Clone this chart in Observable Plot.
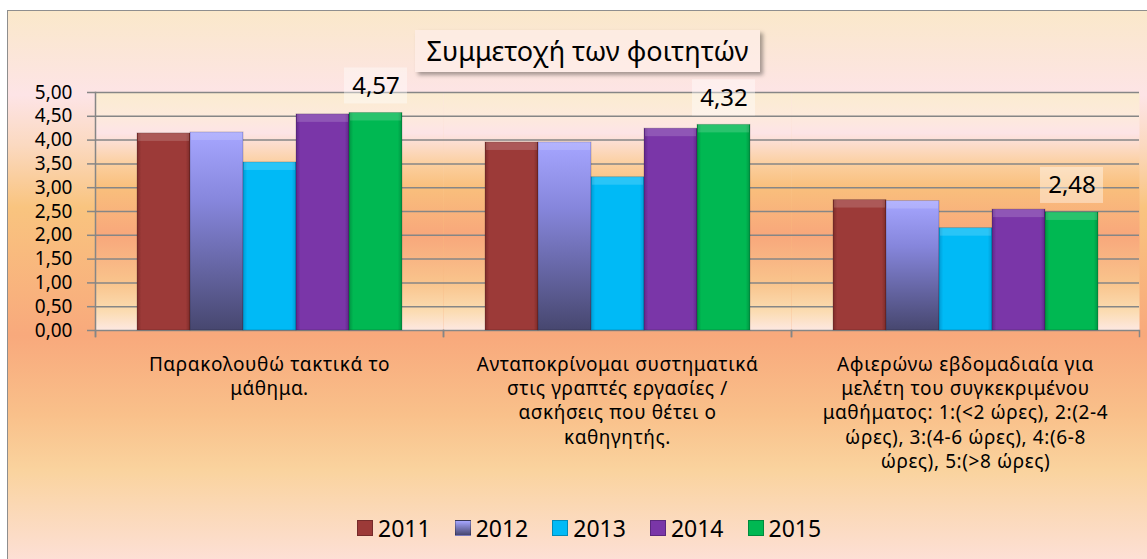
<!DOCTYPE html>
<html>
<head>
<meta charset="utf-8">
<script src="https://cdn.jsdelivr.net/npm/d3@7"></script>
<script src="https://cdn.jsdelivr.net/npm/@observablehq/plot@0.6"></script>
<style>
  body { margin: 0; background: #fff; font-family: "Noto Sans", sans-serif; color: #000; }
  #wrap { position: relative; width: 1147px; height: 559px; overflow: hidden; }
  #bg { position: absolute; left: 7px; top: 10px; width: 1150px; height: 560px;
        border-left: 1px solid #8e8e8e; border-top: 1px solid #8e8e8e;
        background: linear-gradient(to bottom, #fae8ca 0%, #fde4e6 15%, #fbd9c0 24%, #f9c47f 35%, #f8a97c 58%, #f9c08a 72%, #fad39e 82%, #fde1dc 100%); }
  #title { position: absolute; left: 415px; top: 30px; width: 345px; height: 42px;
           background: rgba(255, 240, 236, 0.6); box-shadow: 3px 3px 4px rgba(0,0,0,0.35);
           font-size: 27px; line-height: 42px; text-align: center; white-space: nowrap; }
  #chart { position: absolute; left: 0; top: 74px; }
  #legend { position: absolute; left: 357px; top: 514px; height: 28px; display: flex; gap: 24px; align-items: center; }
  #legend .item { display: flex; align-items: center; gap: 5px; font-size: 23px; line-height: 28px; }
  #legend .sw { width: 16px; height: 16px; box-sizing: border-box; border: 1px solid rgba(0,0,0,0.25); }
  g[aria-label="fx-axis tick label"] text { letter-spacing: 0.6px; }
</style>
</head>
<body>
<div id="wrap">
  <div id="bg"></div>
  <div id="title">Συμμετοχή των φοιτητών</div>
  <div id="chart"></div>
  <div id="legend"></div>
</div>
<script>
// ---- data ----
const categories = [
  "Παρακολουθώ τακτικά το μάθημα.",
  "Ανταποκρίνομαι συστηματικά στις γραπτές εργασίες / ασκήσεις που θέτει ο καθηγητής.",
  "Αφιερώνω εβδομαδιαία για μελέτη του συγκεκριμένου μαθήματος: 1:(<2 ώρες), 2:(2-4 ώρες), 3:(4-6 ώρες), 4:(6-8 ώρες), 5:(>8 ώρες)"
];
const categoryLabels = [
  "Παρακολουθώ τακτικά το\nμάθημα.",
  "Ανταποκρίνομαι συστηματικά\nστις γραπτές εργασίες /\nασκήσεις που θέτει ο\nκαθηγητής.",
  "Αφιερώνω εβδομαδιαία για\nμελέτη του συγκεκριμένου\nμαθήματος: 1:(<2 ώρες), 2:(2-4\nώρες), 3:(4-6 ώρες), 4:(6-8\nώρες), 5:(>8 ώρες)"
];
const years = ["2011", "2012", "2013", "2014", "2015"];
const values2011 = [4.14, 3.95, 2.74];
const values2012 = [4.16, 3.95, 2.72];
const values2013 = [3.53, 3.22, 2.15];
const values2014 = [4.54, 4.24, 2.54];
const values2015 = [4.57, 4.32, 2.48];
const yTicks = [0, 0.5, 1, 1.5, 2, 2.5, 3, 3.5, 4, 4.5, 5];
const labelledYear = "2015";

// ---- styles ----
const barColors = {
  "2011": ["#7c2b29", "#9c3a38", "#7c2b29"],
  "2012": ["#a6a6ff", "#8686dc", "#47476f"],
  "2013": ["#009ad4", "#00baf6", "#009ad4"],
  "2014": ["#5f2788", "#7a36a8", "#5f2788"],
  "2015": ["#009342", "#00b852", "#009342"]
};

const series = {"2011": values2011, "2012": values2012, "2013": values2013, "2014": values2014, "2015": values2015};
const rows = [];
years.forEach(y => categories.forEach((c, i) => rows.push({category: c, year: y, value: series[y][i]})));
const labelRows = rows.filter(d => d.year === labelledYear);
const fmt = v => v.toFixed(2).replace(".", ",");
const grid = "#868686";

const svg = Plot.plot({
  width: 1147,
  height: 440,
  marginLeft: 94,
  marginRight: 7,
  marginTop: 18,
  marginBottom: 184,
  style: {background: "transparent", overflow: "visible", fontFamily: "'Noto Sans', sans-serif", color: "#000"},
  fx: {domain: categories, padding: 0, label: null},
  x: {domain: years, paddingInner: 0, paddingOuter: 0.765, axis: null},
  y: {domain: [0, 5], axis: null},
  color: {domain: years, range: years.map(y => `url(#g${y})`)},
  marks: [
    Plot.frame({fill: "url(#plotGrad)", stroke: null}),
    Plot.gridY(yTicks.slice(1), {stroke: grid, strokeOpacity: 1, strokeWidth: 1.5}),
    Plot.ruleY([0], {stroke: grid, strokeWidth: 1.5}),
    Plot.frame({anchor: "left", insetTop: 238, insetBottom: -6, stroke: grid, strokeWidth: 1.5}),
    Plot.frame({anchor: "right", insetTop: 238, insetBottom: -6, stroke: grid, strokeWidth: 1.5}),
    Plot.frame({anchor: "left", insetBottom: -6, stroke: grid, strokeWidth: 1.5, fx: () => categories[0]}),
    Plot.axisY({ticks: yTicks, tickSize: 8, tickPadding: 15, tickFormat: fmt, fontSize: 19, stroke: grid, strokeWidth: 1.5, label: null}),
    Plot.barY(rows, {fx: "category", x: "year", y: "value", fill: "year", stroke: "rgba(0,0,0,0.18)", strokeWidth: 1}),
    Plot.barY(rows, {fx: "category", x: "year", y1: "value", y2: "value", insetBottom: -8, insetLeft: 1, insetRight: 1, fill: "#fff", fillOpacity: 0.16}),
    Plot.barY(labelRows, {fx: "category", x: "year", y1: "value", y2: "value", insetTop: -45, insetBottom: 9, insetLeft: -5, insetRight: -5, fill: "#fff", fillOpacity: 0.4, ariaLabel: "label-box"}),
    Plot.text(labelRows, {fx: "category", x: "year", y: "value", dy: -27, text: d => fmt(d.value), fontSize: 24, fill: "#000"}),
    Plot.axisFx({anchor: "bottom", tickSize: 0, tickPadding: 23, tickFormat: d => categoryLabels[categories.indexOf(d)], fontSize: 19, lineHeight: 1.28, lineAnchor: "top", label: null})
  ]
});

// gradient definitions
const ns = "http://www.w3.org/2000/svg";
const defs = document.createElementNS(ns, "defs");
let defsHtml = `
<linearGradient id="plotGrad" x1="0" y1="0" x2="0" y2="1">
  <stop offset="0" stop-color="#fbecd0"/><stop offset="0.1" stop-color="#fdeadc"/>
  <stop offset="0.17" stop-color="#fde4e6"/><stop offset="0.3" stop-color="#fbcf9f"/>
  <stop offset="0.4" stop-color="#f9bf7c"/><stop offset="0.6" stop-color="#f8a77b"/>
  <stop offset="0.8" stop-color="#f9c48c"/><stop offset="0.92" stop-color="#fbdcb2"/>
  <stop offset="1" stop-color="#fde8e2"/>
</linearGradient>
<filter id="shadow" x="-20%" y="-20%" width="150%" height="160%">
  <feDropShadow dx="3" dy="3" stdDeviation="2.5" flood-color="#000" flood-opacity="0.35"/>
</filter>`;
years.forEach(y => {
  const [a, b, c] = barColors[y];
  if (y === "2012") {
    defsHtml += `<linearGradient id="g${y}" x1="0" y1="0" x2="0" y2="1"><stop offset="0" stop-color="${a}"/><stop offset="0.35" stop-color="${b}"/><stop offset="1" stop-color="${c}"/></linearGradient>`;
  } else {
    defsHtml += `<linearGradient id="g${y}" x1="0" y1="0" x2="1" y2="0"><stop offset="0" stop-color="${a}"/><stop offset="0.08" stop-color="${b}"/><stop offset="0.92" stop-color="${b}"/><stop offset="1" stop-color="${c}"/></linearGradient>`;
  }
});
defs.innerHTML = defsHtml;
svg.insertBefore(defs, svg.firstChild);
d3.select(svg).selectAll('g[aria-label="label-box"]').attr("filter", "url(#shadow)");

document.getElementById("chart").appendChild(svg);

// legend
const legend = d3.select("#legend");
years.forEach(y => {
  const item = legend.append("div").attr("class", "item");
  const [a, b, c] = barColors[y];
  item.append("div").attr("class", "sw").style("background", y === "2012" ? `linear-gradient(${a}, ${c})` : b);
  item.append("span").text(y);
});
</script>
</body>
</html>
